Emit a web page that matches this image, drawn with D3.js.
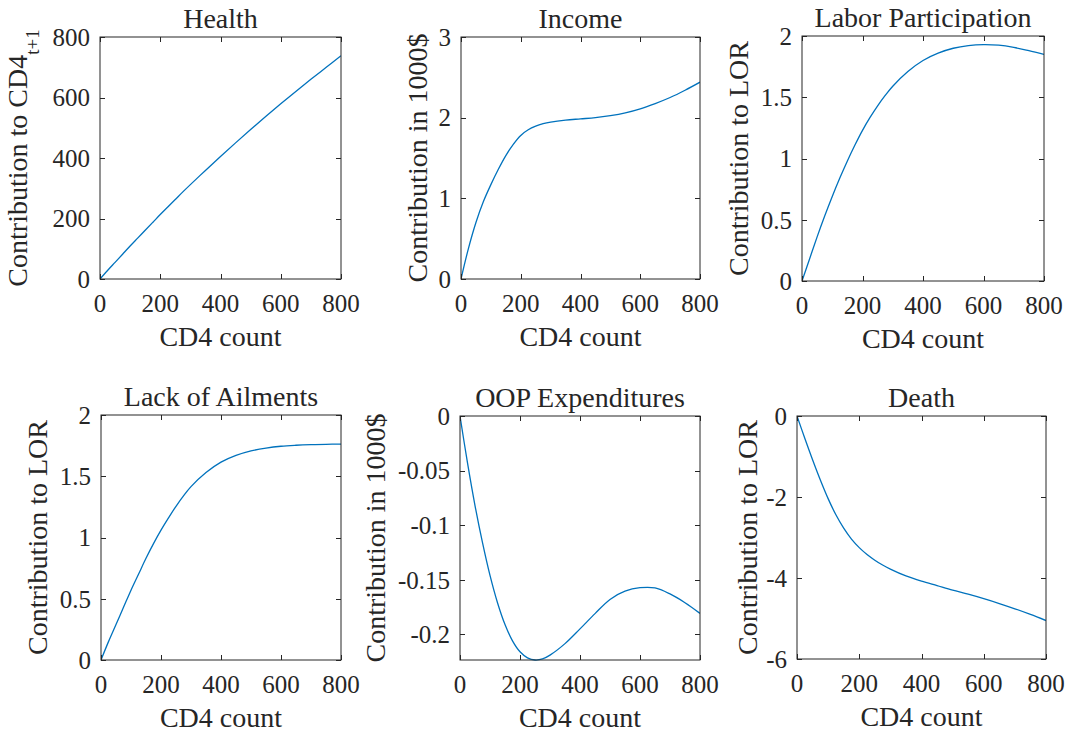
<!DOCTYPE html>
<html>
<head>
<meta charset="utf-8">
<script src="https://cdn.jsdelivr.net/npm/d3@7"></script>
<style>
  body { margin: 0; background: #fff; }
  text { font-family: "Liberation Serif", "Times New Roman", serif; fill: #262626; }
</style>
</head>
<body>
<div id="area"></div>
<script>
// CD4 grid shared by every panel
var cd4 = [0, 25, 50, 75, 100, 125, 150, 175, 200, 225, 250, 275, 300,
           350, 400, 450, 500, 550, 600, 650, 700, 750, 800];

// series values
var health = [0, 28, 55, 82, 109, 135, 161, 187, 213, 238, 263, 288, 312,
              359, 405, 450, 494, 537, 579, 620, 660, 699, 738];
var income = [0, 0.38, 0.70, 0.96, 1.17, 1.36, 1.53, 1.67, 1.78, 1.85, 1.895, 1.925, 1.945,
              1.97, 1.985, 2.0, 2.025, 2.06, 2.11, 2.175, 2.25, 2.34, 2.44];
var labor = [0, 0.18, 0.36, 0.53, 0.69, 0.84, 0.98, 1.11, 1.23, 1.335, 1.43, 1.515, 1.59,
             1.71, 1.80, 1.86, 1.90, 1.922, 1.93, 1.925, 1.907, 1.88, 1.85];
var ailments = [0, 0.15, 0.29, 0.43, 0.57, 0.70, 0.83, 0.95, 1.06, 1.16, 1.255, 1.34, 1.415,
                1.53, 1.615, 1.67, 1.707, 1.73, 1.745, 1.753, 1.758, 1.761, 1.763];
var oop = [0, -0.043, -0.082, -0.116, -0.146, -0.171, -0.191, -0.206, -0.216, -0.2215, -0.2235, -0.2225, -0.219,
           -0.2085, -0.195, -0.181, -0.168, -0.1605, -0.1573, -0.1575, -0.163, -0.171, -0.1808];
var death = [0, -0.55, -1.08, -1.58, -2.04, -2.44, -2.77, -3.04, -3.25, -3.42, -3.56, -3.68, -3.78,
             -3.95, -4.08, -4.19, -4.3, -4.4, -4.51, -4.63, -4.76, -4.9, -5.05];

// titles, axis labels and tick values
var titles = ["Health", "Income", "Labor Participation", "Lack of Ailments", "OOP Expenditures", "Death"];
var yLabels = ["Contribution to CD4", "Contribution in 1000$", "Contribution to LOR", "Contribution to LOR", "Contribution in 1000$", "Contribution to LOR"];
var xLabel = "CD4 count";
var xTicks = [0, 200, 400, 600, 800];
var yTicks = [
  [0, 200, 400, 600, 800],
  [0, 1, 2, 3],
  [0, 0.5, 1, 1.5, 2],
  [0, 0.5, 1, 1.5, 2],
  [-0.2, -0.15, -0.1, -0.05, 0],
  [-6, -4, -2, 0]
];
var yDomains = [[0, 800], [0, 3], [0, 2], [0, 2], [d3.min(oop), 0], [-6, 0]];
var series = [health, income, labor, ailments, oop, death];

// axis boxes (left, right, top, bottom) and y label baseline x
var boxes = [
  {x0: 100, x1: 341, y0: 37, y1: 279, lx: 27},
  {x0: 461, x1: 700, y0: 37, y1: 279, lx: 427},
  {x0: 802, x1: 1044, y0: 36, y1: 281, lx: 748},
  {x0: 101, x1: 341, y0: 415, y1: 660, lx: 47},
  {x0: 460, x1: 700, y0: 416, y1: 660, lx: 385},
  {x0: 797, x1: 1046, y0: 416, y1: 659, lx: 757}
];

var tickLen = 5,
    axisColor = "#262626",
    lineColor = "#0072BD";

var svg = d3.select("#area").append("svg")
    .attr("width", 1075)
    .attr("height", 734);

boxes.forEach(function(b, i) {
  var x = d3.scaleLinear().domain([0, 800]).range([b.x0, b.x1]);
  var y = d3.scaleLinear().domain(yDomains[i]).range([b.y1, b.y0]);
  var g = svg.append("g");

  // clip the curve to the box
  g.append("clipPath")
      .attr("id", "clip" + i)
    .append("rect")
      .attr("x", b.x0).attr("y", b.y0 - 1)
      .attr("width", b.x1 - b.x0).attr("height", b.y1 - b.y0 + 2);

  // the curve
  var line = d3.line()
      .x(function(d, j) { return x(cd4[j]); })
      .y(function(d) { return y(d); })
      .curve(d3.curveCatmullRom.alpha(0.5));

  g.append("path")
      .datum(series[i])
      .attr("clip-path", "url(#clip" + i + ")")
      .attr("fill", "none")
      .attr("stroke", lineColor)
      .attr("stroke-width", 1.3)
      .attr("d", line);

  // x ticks on bottom and top, inward
  g.selectAll(".xt")
      .data(xTicks)
    .enter().append("path")
      .attr("stroke", axisColor)
      .attr("d", function(d) {
        var px = Math.round(x(d)) + 0.5;
        return "M" + px + "," + b.y1 + "v" + (-tickLen) + "M" + px + "," + b.y0 + "v" + tickLen;
      });

  // y ticks on left and right, inward
  g.selectAll(".yt")
      .data(yTicks[i])
    .enter().append("path")
      .attr("stroke", axisColor)
      .attr("d", function(d) {
        var py = Math.round(y(d)) + 0.5;
        return "M" + b.x0 + "," + py + "h" + tickLen + "M" + b.x1 + "," + py + "h" + (-tickLen);
      });

  // box
  g.append("rect")
      .attr("x", b.x0).attr("y", b.y0)
      .attr("width", b.x1 - b.x0).attr("height", b.y1 - b.y0)
      .attr("fill", "none")
      .attr("stroke", axisColor)
      .attr("stroke-width", 1);

  // tick labels
  g.selectAll(".xl")
      .data(xTicks)
    .enter().append("text")
      .attr("x", function(d) { return x(d); })
      .attr("y", b.y1 + 33)
      .attr("text-anchor", "middle")
      .style("font-size", "25px")
      .text(function(d) { return String(d); });

  g.selectAll(".yl")
      .data(yTicks[i])
    .enter().append("text")
      .attr("x", b.x0 - 10)
      .attr("y", function(d) { return y(d); })
      .attr("dy", "0.35em")
      .attr("text-anchor", "end")
      .style("font-size", "25px")
      .text(function(d) { return String(d); });

  // title
  g.append("text")
      .attr("x", (b.x0 + b.x1) / 2)
      .attr("y", b.y0 - 9)
      .attr("text-anchor", "middle")
      .style("font-size", "28px")
      .text(titles[i]);

  // x label
  g.append("text")
      .attr("x", (b.x0 + b.x1) / 2)
      .attr("y", b.y1 + 67)
      .attr("text-anchor", "middle")
      .style("font-size", "28px")
      .text(xLabel);

  // y label, rotated
  var yl = g.append("text")
      .attr("transform", "translate(" + b.lx + "," + ((b.y0 + b.y1) / 2) + ") rotate(-90)")
      .attr("text-anchor", "middle")
      .style("font-size", "28px");
  yl.append("tspan").text(yLabels[i]);
  if (i === 0) {
    yl.append("tspan")
        .attr("dy", "12")
        .style("font-size", "19px")
        .text("t+1");
  }
});
</script>
</body>
</html>
